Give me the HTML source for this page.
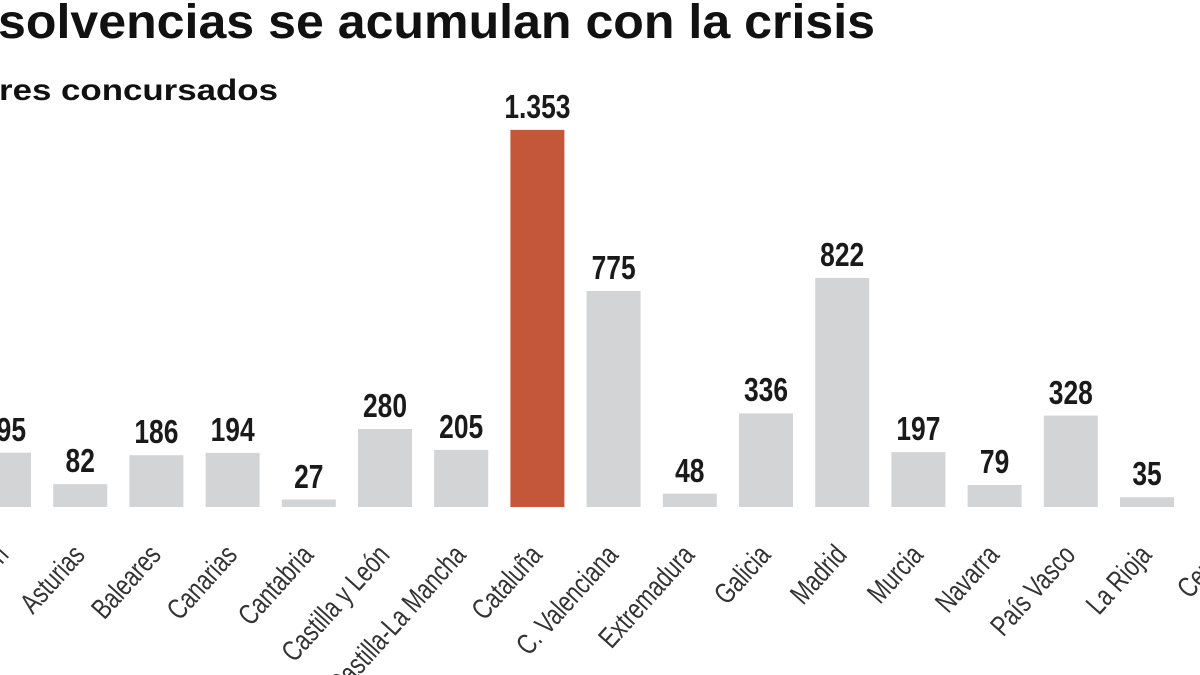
<!DOCTYPE html>
<html><head><meta charset="utf-8"><style>
html,body{margin:0;padding:0;background:#fff;width:1200px;height:675px;overflow:hidden}
svg{display:block}
</style></head><body>
<svg width="1200" height="675" xmlns="http://www.w3.org/2000/svg" font-family="Liberation Sans, sans-serif">
<text x="-2" y="38" font-weight="bold" font-size="48" fill="#111" textLength="877" lengthAdjust="spacingAndGlyphs">solvencias se acumulan con la crisis</text>
<text x="-1" y="100" font-weight="bold" font-size="30" fill="#111" textLength="279" lengthAdjust="spacingAndGlyphs">res concursados</text>
<g fill="#d3d4d5">
<rect x="-23" y="452.7" width="54" height="54.3"/>
<rect x="53.2" y="484.1" width="54" height="22.9"/>
<rect x="129.4" y="455.2" width="54" height="51.8"/>
<rect x="205.6" y="452.9" width="54" height="54.1"/>
<rect x="281.8" y="499.5" width="54" height="7.5"/>
<rect x="358" y="429" width="54" height="78"/>
<rect x="434.2" y="449.9" width="54" height="57.1"/>
<rect x="510.4" y="129.9" width="54" height="377.1" fill="#c4563a"/>
<rect x="586.6" y="291" width="54" height="216"/>
<rect x="662.8" y="493.6" width="54" height="13.4"/>
<rect x="739" y="413.4" width="54" height="93.6"/>
<rect x="815.2" y="277.9" width="54" height="229.1"/>
<rect x="891.4" y="452.1" width="54" height="54.9"/>
<rect x="967.6" y="485" width="54" height="22"/>
<rect x="1043.8" y="415.6" width="54" height="91.4"/>
<rect x="1120" y="497.2" width="54" height="9.8"/>
</g>
<g font-size="33" font-weight="bold" fill="#1a1a1a" text-anchor="middle">
<text transform="translate(4,441) scale(0.8,1)">195</text>
<text transform="translate(80.2,472) scale(0.8,1)">82</text>
<text transform="translate(156.4,443) scale(0.8,1)">186</text>
<text transform="translate(232.6,441) scale(0.8,1)">194</text>
<text transform="translate(308.8,488) scale(0.8,1)">27</text>
<text transform="translate(385,417) scale(0.8,1)">280</text>
<text transform="translate(461.2,438) scale(0.8,1)">205</text>
<text transform="translate(537.4,118) scale(0.8,1)">1.353</text>
<text transform="translate(613.6,279) scale(0.8,1)">775</text>
<text transform="translate(689.8,482) scale(0.8,1)">48</text>
<text transform="translate(766,401) scale(0.8,1)">336</text>
<text transform="translate(842.2,266) scale(0.8,1)">822</text>
<text transform="translate(918.4,440) scale(0.8,1)">197</text>
<text transform="translate(994.6,473) scale(0.8,1)">79</text>
<text transform="translate(1070.8,404) scale(0.8,1)">328</text>
<text transform="translate(1147,485) scale(0.8,1)">35</text>
</g>
<g font-size="29" fill="#333" text-anchor="end">
<text transform="translate(10,556) rotate(-48) scale(0.76,1)">Aragón</text>
<text transform="translate(86.2,556) rotate(-48) scale(0.76,1)">Asturias</text>
<text transform="translate(162.4,556) rotate(-48) scale(0.76,1)">Baleares</text>
<text transform="translate(238.6,556) rotate(-48) scale(0.76,1)">Canarias</text>
<text transform="translate(314.8,556) rotate(-48) scale(0.76,1)">Cantabria</text>
<text transform="translate(391,556) rotate(-48) scale(0.76,1)">Castilla y León</text>
<text transform="translate(467.2,556) rotate(-48) scale(0.76,1)">Castilla-La Mancha</text>
<text transform="translate(543.4,556) rotate(-48) scale(0.76,1)">Cataluña</text>
<text transform="translate(619.6,556) rotate(-48) scale(0.76,1)">C. Valenciana</text>
<text transform="translate(695.8,556) rotate(-48) scale(0.76,1)">Extremadura</text>
<text transform="translate(772,556) rotate(-48) scale(0.76,1)">Galicia</text>
<text transform="translate(848.2,556) rotate(-48) scale(0.76,1)">Madrid</text>
<text transform="translate(924.4,556) rotate(-48) scale(0.76,1)">Murcia</text>
<text transform="translate(1000.6,556) rotate(-48) scale(0.76,1)">Navarra</text>
<text transform="translate(1076.8,556) rotate(-48) scale(0.76,1)">País Vasco</text>
<text transform="translate(1153,556) rotate(-48) scale(0.76,1)">La Rioja</text>
<text transform="translate(1229.2,556) rotate(-48) scale(0.76,1)">Ceuta</text>
</g>
</svg>
</body></html>
